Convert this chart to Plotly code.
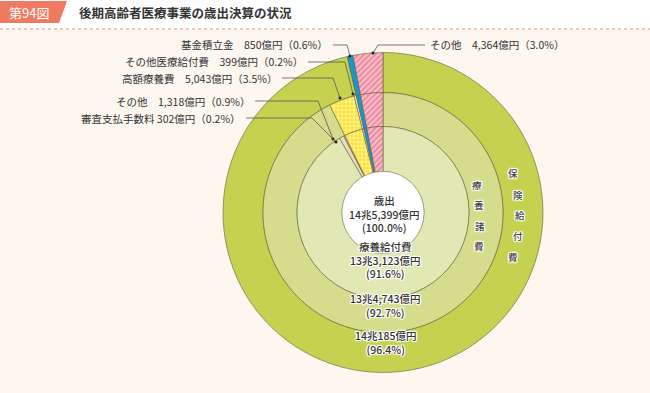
import plotly.graph_objects as go

W, H = 650, 393

# ---- data ----
outer_labels = ["保険給付費", "基金積立金", "その他"]
outer_values = [140185, 850, 4364]
middle_labels = ["療養諸費", "高額療養費", "その他医療給付費", "基金積立金", "その他"]
middle_values = [134743, 5043, 399, 850, 4364]
inner_labels = ["療養給付費", "その他(療養)", "審査支払手数料", "高額療養費", "その他医療給付費", "基金積立金", "その他"]
inner_values = [133123, 1318, 302, 5043, 399, 850, 4364]
total_label = "歳出"
total_value_text = "14兆5,399億円"
total_pct_text = "(100.0%)"

side_labels = [
    "基金積立金　850億円（0.6%）",
    "その他医療給付費　399億円（0.2%）",
    "高額療養費　5,043億円（3.5%）",
    "その他　1,318億円（0.9%）",
    "審査支払手数料 302億円（0.2%）",
]
right_label = "その他　4,364億円（3.0%）"
bottom_labels = [
    "療養給付費<br>13兆3,123億円<br>(91.6%)",
    "13兆4,743億円<br>(92.7%)",
    "14兆185億円<br>(96.4%)",
]

# ---- styles ----
FONT = "Noto Sans CJK JP"
BG = "#fdf7ef"
PINK_BG, PINK_FG = "#f8bcc7", "#e0486a"
BLUE = "#1b95cf"
YELLOW = "#ffe43a"
G_OUT, G_MID, G_IN = "#c4d24f", "#d5dd8d", "#e2e8b3"
EDGE = "rgba(95,95,60,0.75)"

cx, cy = 383, 212.5
R_OUT, R_MID, R_IN, R_C = 160, 120, 86, 41


def px(x):
    return x / W


def py(y):
    return (H - y) / H


def dom(r):
    return dict(x=[px(cx - r), px(cx + r)], y=[py(cy + r), py(cy - r)])


STYLE = {
    "その他": (PINK_BG, "/", PINK_FG),
    "基金積立金": (BLUE, "", BLUE),
    "高額療養費": (YELLOW, ".", "white"),
    "その他医療給付費": ("#eef3c8", "", "white"),
    "審査支払手数料": ("#f4b8c2", "", "white"),
    "その他(療養)": ("#e8dcc0", "", "white"),
}


def colors_for(labels, base):
    cols, shapes, fgs = [], [], []
    for l in labels:
        c, s, f = STYLE.get(l, (base, "", "white"))
        cols.append(c); shapes.append(s); fgs.append(f)
    return cols, shapes, fgs


fig = go.Figure()
for labels, values, r, rh, base in [
    (outer_labels, outer_values, R_OUT, R_MID, G_OUT),
    (middle_labels, middle_values, R_MID, R_IN, G_MID),
    (inner_labels, inner_values, R_IN, R_C, G_IN),
]:
    cols, shapes, fgs = colors_for(labels, base)
    fig.add_trace(go.Pie(
        labels=labels, values=values, sort=False, direction="clockwise",
        rotation=0, hole=rh / r, domain=dom(r), textinfo="none", hoverinfo="label+value",
        showlegend=False,
        marker=dict(colors=cols, line=dict(color=EDGE, width=0.8),
                    pattern=dict(shape=shapes, fgcolor=fgs, fillmode="overlay",
                                 size=4, solidity=0.4)),
    ))

shapes_l = []
annos = []

# header
shapes_l.append(dict(type="rect", xref="paper", yref="paper", x0=0, x1=1, y0=py(29), y1=1,
                     fillcolor="white", line_width=0, layer="below"))
shapes_l.append(dict(type="path", xref="paper", yref="paper",
                     path=f"M 0 {py(1)} L {px(67)} {py(1)} L {px(59)} {py(23)} L 0 {py(23)} Z",
                     fillcolor="#ef7a62", line_width=0))
shapes_l.append(dict(type="line", xref="paper", yref="paper", x0=0, x1=1, y0=py(29), y1=py(29),
                     line=dict(color="#ef8c78", width=1, dash="dot")))
annos.append(dict(x=px(7), y=py(12), xref="paper", yref="paper", xanchor="left", yanchor="middle",
                  text="第94図", showarrow=False, font=dict(family=FONT, size=13, color="white")))
annos.append(dict(x=px(77), y=py(12), xref="paper", yref="paper", xanchor="left", yanchor="middle",
                  text="<b>後期高齢者医療事業の歳出決算の状況</b>", showarrow=False,
                  font=dict(family=FONT, size=12.5, color="#333333")))

# center circle
shapes_l.append(dict(type="circle", xref="paper", yref="paper",
                     x0=px(cx - R_C), x1=px(cx + R_C), y0=py(cy + R_C), y1=py(cy - R_C),
                     fillcolor="white", line=dict(color="rgba(120,120,90,0.5)", width=0.8)))
annos.append(dict(x=px(cx + 1), y=py(cy + 1), xref="paper", yref="paper", showarrow=False,
                  text=f"{total_label}<br>{total_value_text}<br>{total_pct_text}",
                  font=dict(family=FONT, size=10.5, color="#333333", weight=500)))

GLOW = ("1px 0px 0px white, -1px 0px 0px white, 0px 1px 0px white, 0px -1px 0px white, "
        "1px 1px 1px white, -1px -1px 1px white, 1px -1px 1px white, -1px 1px 1px white")
# bottom labels
for txt, yc in zip(bottom_labels, [283, 322, 359]):
    annos.append(dict(x=px(cx + 3), y=py(yc), xref="paper", yref="paper", showarrow=False, text=txt,
                      font=dict(family=FONT, size=10.5, color="#333333", weight=500, shadow=GLOW)))

# vertical ring texts
for chars, pts in [
    ("保険給付費", [(520, 173), (525, 195), (527, 215), (525, 236), (520, 257)]),
    ("療養諸費", [(484, 185), (486, 205), (487, 226), (486, 246)]),
]:
    for ch, (x, y) in zip(chars, pts):
        annos.append(dict(x=px(x), y=py(y), xref="paper", yref="paper", showarrow=False, text=ch,
                          font=dict(family=FONT, size=9.5, color="#444444", weight=500, shadow=GLOW)))

# side labels
LC = "#555555"
side_pos = [(330, 44), (305, 62), (279, 78), (252, 101), (243, 118)]
leader = [
    [(333, 45), (347, 45), (350, 56)],
    [(308, 62), (345, 62), (353, 94)],
    [(282, 78), (333, 78), (340, 98)],
    [(255, 101), (318, 101), (333, 139)],
    [(246, 118), (312, 118), (336, 142)],
]
for txt, (x, y) in zip(side_labels, side_pos):
    annos.append(dict(x=px(x), y=py(y), xref="paper", yref="paper", xanchor="right", yanchor="middle",
                      showarrow=False, text=txt, font=dict(family=FONT, size=10.5, color="#333333")))
annos.append(dict(x=px(428), y=py(44), xref="paper", yref="paper", xanchor="left", yanchor="middle",
                  showarrow=False, text=right_label, font=dict(family=FONT, size=10.5, color="#333333")))
leader.append([(425, 45), (378, 45), (373, 53)])

for pts in leader:
    path = "M " + " L ".join(f"{px(x)} {py(y)}" for x, y in pts)
    shapes_l.append(dict(type="path", xref="paper", yref="paper", path=path,
                         line=dict(color=LC, width=0.8)))
    ex, ey = pts[-1]
    shapes_l.append(dict(type="circle", xref="paper", yref="paper",
                         x0=px(ex - 1.5), x1=px(ex + 1.5), y0=py(ey + 1.5), y1=py(ey - 1.5),
                         fillcolor="#222222", line_width=0))

fig.update_layout(
    width=W, height=H, margin=dict(l=0, r=0, t=0, b=0),
    paper_bgcolor=BG, plot_bgcolor=BG,
    shapes=shapes_l, annotations=annos, showlegend=False,
)
fig.write_html("out.html", config={"displayModeBar": False},
               post_script="document.body.style.margin='0px';document.body.style.overflow='hidden';")
